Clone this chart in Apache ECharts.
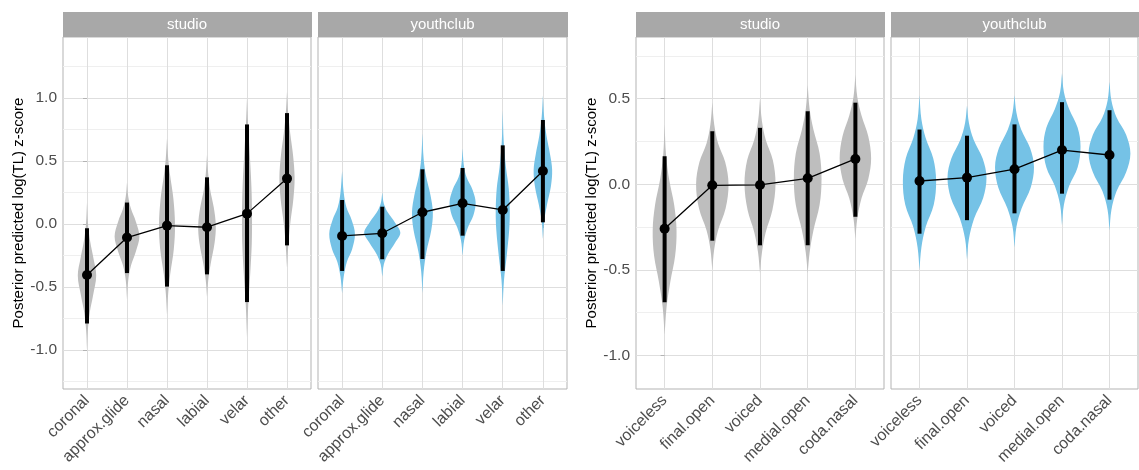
<!DOCTYPE html>
<html><head><meta charset="utf-8">
<script src="https://cdn.jsdelivr.net/npm/echarts@6/dist/echarts.min.js"></script>
<style>html,body{margin:0;padding:0;background:#fff}#c{width:1139px;height:470px}</style>
</head><body><div id="c"></div>
<script>
// ---------- data ----------
const placeCats = ['coronal', 'approx.glide', 'nasal', 'labial', 'velar', 'other'];
const posCats = ['voiceless', 'final.open', 'voiced', 'medial.open', 'coda.nasal'];
const facetNames = ['studio', 'youthclub'];
const yTitle = 'Posterior predicted log(TL) z-score';
const placeTicks = [-1.0, -0.5, 0.0, 0.5, 1.0];
const placeMinorTicks = [-1.25, -0.75, -0.25, 0.25, 0.75, 1.25];
const posTicks = [-1.0, -0.5, 0.0, 0.5];
const posMinorTicks = [-0.75, -0.25, 0.25, 0.75];

// medians and 95% intervals
const placeStudioMed = [-0.405, -0.108, -0.013, -0.026, 0.082, 0.36];
const placeStudioLo = [-0.79, -0.39, -0.497, -0.40, -0.62, -0.17];
const placeStudioHi = [-0.034, 0.17, 0.466, 0.37, 0.79, 0.88];
const placeYouthMed = [-0.095, -0.074, 0.093, 0.164, 0.111, 0.42];
const placeYouthLo = [-0.373, -0.28, -0.278, -0.093, -0.373, 0.013];
const placeYouthHi = [0.19, 0.137, 0.434, 0.444, 0.624, 0.825];
const posStudioMed = [-0.26, -0.006, -0.004, 0.035, 0.148];
const posStudioLo = [-0.69, -0.33, -0.357, -0.357, -0.19];
const posStudioHi = [0.164, 0.31, 0.33, 0.427, 0.477];
const posYouthMed = [0.019, 0.039, 0.088, 0.20, 0.171];
const posYouthLo = [-0.289, -0.21, -0.17, -0.055, -0.09];
const posYouthHi = [0.32, 0.284, 0.35, 0.48, 0.433];

// violin outlines: [value, half-width in category units], bottom to top
const placeStudioViol = [
  [[-1.0,0],[-0.85,0.02],[-0.7,0.07],[-0.57,0.15],[-0.41,0.23],[-0.27,0.16],[-0.14,0.08],[0.0,0.025],[0.17,0]],
  [[-0.6,0],[-0.45,0.03],[-0.33,0.1],[-0.22,0.22],[-0.1,0.31],[0.02,0.22],[0.12,0.1],[0.22,0.03],[0.33,0]],
  [[-0.72,0],[-0.55,0.03],[-0.4,0.08],[-0.2,0.17],[-0.01,0.2],[0.2,0.16],[0.38,0.08],[0.52,0.03],[0.68,0]],
  [[-0.58,0],[-0.45,0.03],[-0.32,0.09],[-0.15,0.19],[-0.01,0.22],[0.13,0.17],[0.27,0.08],[0.4,0.03],[0.55,0]],
  [[-0.9,0],[-0.65,0.03],[-0.4,0.08],[-0.15,0.12],[0.08,0.125],[0.3,0.11],[0.55,0.07],[0.8,0.025],[1.0,0]],
  [[-0.35,0],[-0.18,0.03],[0.0,0.08],[0.2,0.16],[0.37,0.19],[0.55,0.15],[0.72,0.08],[0.88,0.03],[1.05,0]]
];
const placeYouthViol = [
  [[-0.55,0],[-0.42,0.04],[-0.3,0.12],[-0.2,0.25],[-0.08,0.32],[0.03,0.24],[0.13,0.11],[0.25,0.04],[0.42,0]],
  [[-0.42,0],[-0.32,0.04],[-0.24,0.14],[-0.15,0.32],[-0.07,0.45],[0.01,0.32],[0.09,0.14],[0.16,0.04],[0.25,0]],
  [[-0.55,0],[-0.38,0.03],[-0.22,0.1],[-0.05,0.22],[0.09,0.26],[0.23,0.2],[0.38,0.09],[0.52,0.03],[0.72,0]],
  [[-0.25,0],[-0.13,0.04],[-0.03,0.13],[0.07,0.27],[0.17,0.325],[0.27,0.25],[0.37,0.1],[0.47,0.03],[0.6,0]],
  [[-0.65,0],[-0.45,0.03],[-0.25,0.1],[-0.05,0.16],[0.1,0.175],[0.28,0.15],[0.45,0.08],[0.65,0.025],[0.9,0]],
  [[-0.12,0],[0.02,0.03],[0.15,0.1],[0.3,0.2],[0.43,0.23],[0.55,0.18],[0.7,0.09],[0.85,0.03],[1.02,0]]
];
const posStudioViol = [
  [[-0.88,0],[-0.72,0.04],[-0.57,0.12],[-0.42,0.22],[-0.27,0.25],[-0.12,0.2],[0.02,0.1],[0.17,0.03],[0.35,0]],
  [[-0.5,0],[-0.38,0.04],[-0.27,0.12],[-0.14,0.28],[0.0,0.34],[0.13,0.27],[0.24,0.12],[0.35,0.04],[0.48,0]],
  [[-0.52,0],[-0.4,0.04],[-0.28,0.12],[-0.15,0.26],[0.0,0.325],[0.14,0.27],[0.26,0.12],[0.37,0.04],[0.5,0]],
  [[-0.52,0],[-0.4,0.04],[-0.27,0.12],[-0.12,0.25],[0.03,0.29],[0.18,0.25],[0.32,0.12],[0.44,0.04],[0.58,0]],
  [[-0.32,0],[-0.2,0.04],[-0.08,0.13],[0.03,0.27],[0.15,0.33],[0.28,0.27],[0.4,0.13],[0.51,0.04],[0.64,0]]
];
const posYouthViol = [
  [[-0.5,0],[-0.37,0.04],[-0.25,0.13],[-0.12,0.3],[0.02,0.35],[0.15,0.29],[0.27,0.13],[0.38,0.04],[0.52,0]],
  [[-0.44,0],[-0.32,0.04],[-0.2,0.15],[-0.08,0.34],[0.04,0.41],[0.15,0.33],[0.26,0.14],[0.36,0.04],[0.46,0]],
  [[-0.37,0],[-0.25,0.04],[-0.14,0.15],[-0.02,0.34],[0.1,0.41],[0.21,0.33],[0.32,0.14],[0.42,0.04],[0.52,0]],
  [[-0.24,0],[-0.12,0.04],[-0.01,0.15],[0.1,0.33],[0.22,0.39],[0.33,0.33],[0.44,0.15],[0.54,0.04],[0.65,0]],
  [[-0.27,0],[-0.15,0.04],[-0.04,0.15],[0.07,0.35],[0.18,0.44],[0.29,0.35],[0.39,0.15],[0.49,0.04],[0.6,0]]
];

// ---------- styling / layout ----------
const FONT = '"Liberation Sans", Arial, Helvetica, sans-serif';
const GREY = '#bebebe', BLUE = '#75c2e6';
const panels = [
  {left: 63, width: 248, cats: placeCats, med: placeStudioMed, lo: placeStudioLo, hi: placeStudioHi, viol: placeStudioViol, color: GREY, ymin: -1.31, ymax: 1.484, ticks: placeTicks, minor: placeMinorTicks, showY: true, strip: facetNames[0]},
  {left: 318, width: 249, cats: placeCats, med: placeYouthMed, lo: placeYouthLo, hi: placeYouthHi, viol: placeYouthViol, color: BLUE, ymin: -1.31, ymax: 1.484, ticks: placeTicks, minor: placeMinorTicks, showY: false, strip: facetNames[1]},
  {left: 636, width: 248, cats: posCats, med: posStudioMed, lo: posStudioLo, hi: posStudioHi, viol: posStudioViol, color: GREY, ymin: -1.197, ymax: 0.861, ticks: posTicks, minor: posMinorTicks, showY: true, strip: facetNames[0]},
  {left: 891, width: 247, cats: posCats, med: posYouthMed, lo: posYouthLo, hi: posYouthHi, viol: posYouthViol, color: BLUE, ymin: -1.197, ymax: 0.861, ticks: posTicks, minor: posMinorTicks, showY: false, strip: facetNames[1]}
];
const TOP = 37, H = 352;

const grid = [], xAxis = [], yAxis = [], series = [], graphic = [];
panels.forEach((p, i) => {
  grid.push({left: p.left, top: TOP, width: p.width, height: H, show: true, borderColor: '#b3b3b3', borderWidth: 1, backgroundColor: '#fff', containLabel: false});
  const idx = p.cats.map((_, k) => k);
  xAxis.push({
    type: 'value', gridIndex: i, min: -0.6, max: p.cats.length - 1 + 0.6,
    axisLine: {show: false},
    axisTick: {show: true, length: 4, lineStyle: {color: '#b3b3b3'}, customValues: idx},
    axisLabel: {customValues: idx, rotate: 45, margin: 9, color: '#4d4d4d', fontSize: 16, fontFamily: FONT,
      formatter: v => p.cats[Math.round(v)] || ''},
    splitLine: {show: true, lineStyle: {color: '#dedede', width: 1}}
  });
  yAxis.push({
    type: 'value', gridIndex: i, min: p.ymin, max: p.ymax,
    name: p.showY ? yTitle : '', nameLocation: 'middle', nameGap: 37, nameRotate: 90,
    nameTextStyle: {color: '#000', fontSize: 15, fontFamily: FONT},
    axisLine: {show: false},
    axisTick: {show: p.showY, length: 4, lineStyle: {color: '#b3b3b3'}, customValues: p.ticks},
    axisLabel: {show: p.showY, customValues: p.ticks, color: '#4d4d4d', fontSize: 15.5, fontFamily: FONT, margin: 6,
      formatter: v => v.toFixed(1)},
    splitLine: {show: true, lineStyle: {color: '#dedede', width: 1}}
  });
  yAxis.push({
    type: 'value', gridIndex: i, min: p.ymin, max: p.ymax, position: 'left',
    axisLine: {show: false}, axisLabel: {show: false},
    axisTick: {show: false, customValues: p.minor},
    splitLine: {show: true, lineStyle: {color: '#efefef', width: 1}}
  });
  // violins
  series.push({
    type: 'custom', xAxisIndex: i, yAxisIndex: 2 * i, z: 2,
    data: idx.map(k => [k, p.med[k]]),
    renderItem: (params, api) => {
      const k = api.value(0);
      const prof = p.viol[k];
      const pts = [];
      prof.forEach(([y, w]) => pts.push(api.coord([k + w, y])));
      for (let j = prof.length - 1; j >= 0; j--) pts.push(api.coord([k - prof[j][1], prof[j][0]]));
      return {type: 'polygon', shape: {points: pts, smooth: 0.35}, style: {fill: p.color, stroke: null}};
    },
    silent: true
  });
  // interval bars
  series.push({
    type: 'custom', xAxisIndex: i, yAxisIndex: 2 * i, z: 3,
    data: idx.map(k => [k, p.lo[k], p.hi[k]]),
    renderItem: (params, api) => {
      const a = api.coord([api.value(0), api.value(1)]);
      const b = api.coord([api.value(0), api.value(2)]);
      return {type: 'line', shape: {x1: a[0], y1: a[1], x2: b[0], y2: b[1]}, style: {stroke: '#000', lineWidth: 4}};
    },
    silent: true
  });
  // medians + connecting line
  series.push({
    type: 'line', xAxisIndex: i, yAxisIndex: 2 * i, z: 4,
    data: idx.map(k => [k, p.med[k]]),
    symbol: 'circle', symbolSize: 10, showSymbol: true,
    itemStyle: {color: '#000'}, lineStyle: {color: '#000', width: 1.3},
    animation: false, silent: true
  });
  // strip
  graphic.push({type: 'rect', shape: {x: p.left, y: 12, width: p.width + 1, height: 25}, style: {fill: '#a8a8a8'}, silent: true});
  graphic.push({type: 'text', x: p.left + p.width / 2, y: 24.5,
    style: {text: p.strip, fill: '#fff', font: '15px ' + FONT, textAlign: 'center', textVerticalAlign: 'middle', align: 'center', verticalAlign: 'middle'}, silent: true});
});

const chart = echarts.init(document.getElementById('c'), null, {renderer: 'canvas'});
chart.setOption({animation: false, grid, xAxis, yAxis, series, graphic});
</script></body></html>
